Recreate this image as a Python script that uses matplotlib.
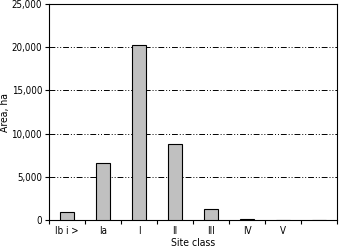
import numpy as np
import matplotlib
matplotlib.use("Agg")
import matplotlib.pyplot as plt
from matplotlib.ticker import FixedLocator, FuncFormatter

# Data
site_classes = ["Ib i >", "Ia", "I", "II", "III", "IV", "V", ""]
area_ha = [900, 6600, 20200, 8800, 1300, 100, 0, 0]
y_ticks = [0, 5000, 10000, 15000, 20000, 25000]

plt.rcParams["font.family"] = ["DejaVu Sans Condensed", "Liberation Sans Narrow", "DejaVu Sans"]
plt.rcParams["font.stretch"] = "condensed"
plt.rcParams["font.size"] = 7.5

fig = plt.figure(figsize=(3.41, 2.48), dpi=100)
ax = fig.add_axes([49 / 341, 1 - 220 / 248, 288 / 341, 216 / 248])

x = np.arange(len(site_classes))
ax.bar(x, area_ha, width=0.37, color="#c0c0c0", edgecolor="black", linewidth=0.8, zorder=3)

ax.set_xlim(-0.5, len(site_classes) - 0.5)
ax.set_ylim(0, 25000)
ax.yaxis.set_major_locator(FixedLocator(y_ticks))
ax.yaxis.set_major_formatter(FuncFormatter(lambda v, p: f"{int(v):,}"))
ax.set_xticks(x)
ax.set_xticklabels(site_classes)
ax.set_xticks(np.arange(len(site_classes) + 1) - 0.5, minor=True)
ax.tick_params(axis="x", which="major", length=0, pad=4, labelsize=7)
ax.tick_params(axis="x", which="minor", length=3, width=0.8, direction="out")
ax.tick_params(axis="y", length=3, width=0.8, direction="out", pad=2, labelsize=7)

for yv in y_ticks[1:-1]:
    ax.axhline(yv, color="black", linewidth=0.7, linestyle=(0, (6, 2, 1, 2, 1, 2)), zorder=1)

for s in ax.spines.values():
    s.set_linewidth(0.8)

ax.set_ylabel("Area, ha")
ax.yaxis.set_label_coords(-0.135, 0.5)
ax.set_xlabel("Site class", va="center")
ax.xaxis.set_label_coords(0.5, -0.105)

fig.savefig("out.png", dpi=100)
